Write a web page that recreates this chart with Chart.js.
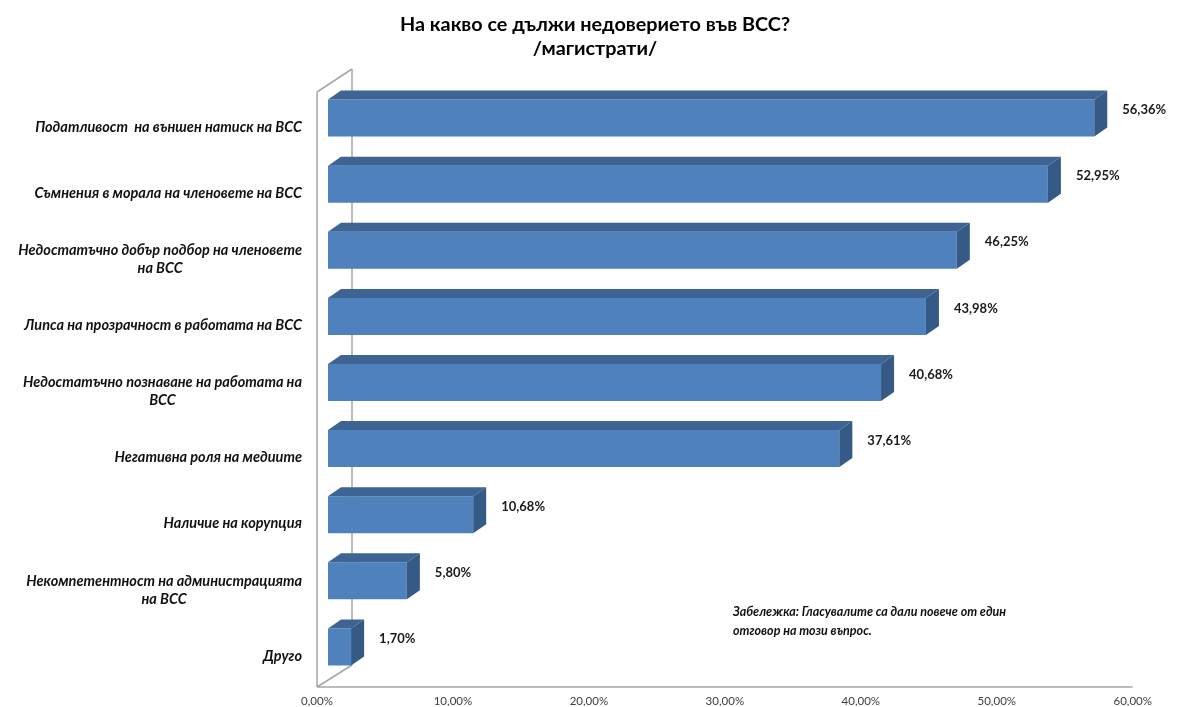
<!DOCTYPE html>
<html>
<head>
<meta charset="utf-8">
<script src="https://cdn.jsdelivr.net/npm/chart.js@4.4.1/dist/chart.umd.min.js"></script>
<style>
  html, body { margin: 0; padding: 0; background: #fff; }
  #wrap { width: 1177px; height: 707px; }
</style>
</head>
<body>
<div id="wrap"><canvas id="chart"></canvas></div>
<script>
// categories (each entry = lines of the label)
const categories = [
    ["Податливост  на външен натиск на ВСС"],
    ["Съмнения в морала на членовете на ВСС"],
    ["Недостатъчно добър подбор на членовете", "на ВСС"],
    ["Липса на прозрачност в работата на ВСС"],
    ["Недостатъчно познаване на работата на", "ВСС"],
    ["Негативна роля на медиите"],
    ["Наличие на корупция"],
    ["Некомпетентност на администрацията", "на ВСС"],
    ["Друго"]
];
const values = [56.36, 52.95, 46.25, 43.98, 40.68, 37.61, 10.68, 5.80, 1.70];
const xTicks = [0, 10, 20, 30, 40, 50, 60];
const titleLines = ["На какво се дължи недоверието във ВСС?", "/магистрати/"];
const noteLines = ["Забележка: Гласувалите са дали повече от един", "отговор на този въпрос."];

const FRONT = '#4F81BD', TOP = '#3D6493', SIDE = '#365A86';
const DX = 13, DY = 9;      // bar depth
const FX = 11, FY = 7;      // bars sit this far behind the front plane
const WX = 35, WY = 23;     // full wall depth

const fmt = v => v.toFixed(2).replace('.', ',') + '%';

const frame3d = {
    id: 'frame3d',
    beforeDatasetsDraw(chart) {
        const { ctx, chartArea: a } = chart;
        const fl = a.left - FX, fb = a.bottom + FY, ft = a.top + FY;
        ctx.save();
        ctx.strokeStyle = '#A6A6A6';
        ctx.lineWidth = 1.5;
        ctx.beginPath();
        ctx.moveTo(fl, ft); ctx.lineTo(fl, fb);
        ctx.moveTo(fl, ft); ctx.lineTo(fl + WX, ft - WY);
        ctx.moveTo(fl + WX, ft - WY); ctx.lineTo(fl + WX, fb - WY + 1);
        ctx.moveTo(fl + WX, fb - WY + 1); ctx.lineTo(fl, fb);
        ctx.moveTo(fl, fb); ctx.lineTo(a.right - FX, fb);
        ctx.stroke();
        ctx.restore();
    },
    afterDatasetsDraw(chart) {
        const { ctx } = chart;
        const meta = chart.getDatasetMeta(0);
        ctx.save();
        meta.data.forEach((bar, i) => {
            const t = bar.y - bar.height / 2, b = bar.y + bar.height / 2;
            const l = bar.base, r = bar.x;
            // top face
            ctx.fillStyle = TOP;
            ctx.beginPath();
            ctx.moveTo(l, t); ctx.lineTo(r, t); ctx.lineTo(r + DX, t - DY); ctx.lineTo(l + DX, t - DY);
            ctx.closePath(); ctx.fill();
            // side face
            ctx.fillStyle = SIDE;
            ctx.beginPath();
            ctx.moveTo(r, t); ctx.lineTo(r + DX, t - DY); ctx.lineTo(r + DX, b - DY); ctx.lineTo(r, b);
            ctx.closePath(); ctx.fill();
            // value label
            ctx.fillStyle = '#1a1a1a';
            ctx.font = 'bold 13px Lato';
            ctx.textAlign = 'left';
            ctx.textBaseline = 'middle';
            ctx.fillText(fmt(values[i]), r + DX + 15, bar.y - 8);
        });
        ctx.restore();
    },
    afterDraw(chart) {
        const { ctx } = chart;
        const ys = chart.scales.y;
        ctx.save();
        ctx.fillStyle = '#000';
        ctx.textBaseline = 'middle';
        ctx.textAlign = 'center';
        // title
        ctx.font = 'bold 19.8px Lato';
        titleLines.forEach((s, k) => ctx.fillText(s, 595, 25 + k * 24));
        // category labels
        ctx.fillStyle = '#111';
        ctx.font = 'italic bold 14.5px Lato';
        const right = 302, lh = 18;
        categories.forEach((lines, i) => {
            const cy = ys.getPixelForValue(i) + 9;
            const w = Math.max(...lines.map(s => ctx.measureText(s).width));
            const cx = right - w / 2;
            const y0 = cy - (lines.length - 1) * lh / 2;
            lines.forEach((s, k) => ctx.fillText(s, cx, y0 + k * lh));
        });
        // note
        ctx.font = 'italic bold 12.5px Lato';
        ctx.textAlign = 'left';
        noteLines.forEach((s, k) => ctx.fillText(s, 733, 612 + k * 19));
        ctx.restore();
    }
};

new Chart(document.getElementById('chart'), {
    type: 'bar',
    data: {
        labels: categories,
        datasets: [{
            data: values,
            backgroundColor: FRONT,
            borderWidth: 0,
            barPercentage: 0.56,
            categoryPercentage: 1
        }]
    },
    options: {
        indexAxis: 'y',
        responsive: true,
        maintainAspectRatio: false,
        animation: false,
        layout: { padding: { left: 0, right: 27, top: 85, bottom: 0 } },
        scales: {
            x: {
                min: 0, max: 60,
                afterFit(s) { s.height = 27; },
                afterBuildTicks(s) { s.ticks = xTicks.map(v => ({ value: v })); },
                grid: { display: false, drawTicks: false },
                border: { display: false },
                ticks: {
                    labelOffset: -FX,
                    padding: 14,
                    color: '#404040',
                    font: { family: 'Lato', size: 11.5 },
                    maxRotation: 0,
                    callback: v => fmt(v)
                }
            },
            y: {
                afterFit(s) { s.width = 328; },
                grid: { display: false, drawTicks: false },
                border: { display: false },
                ticks: { display: false }
            }
        },
        plugins: {
            legend: { display: false },
            tooltip: { enabled: false },
            title: { display: false }
        }
    },
    plugins: [frame3d]
});
</script>
</body>
</html>
